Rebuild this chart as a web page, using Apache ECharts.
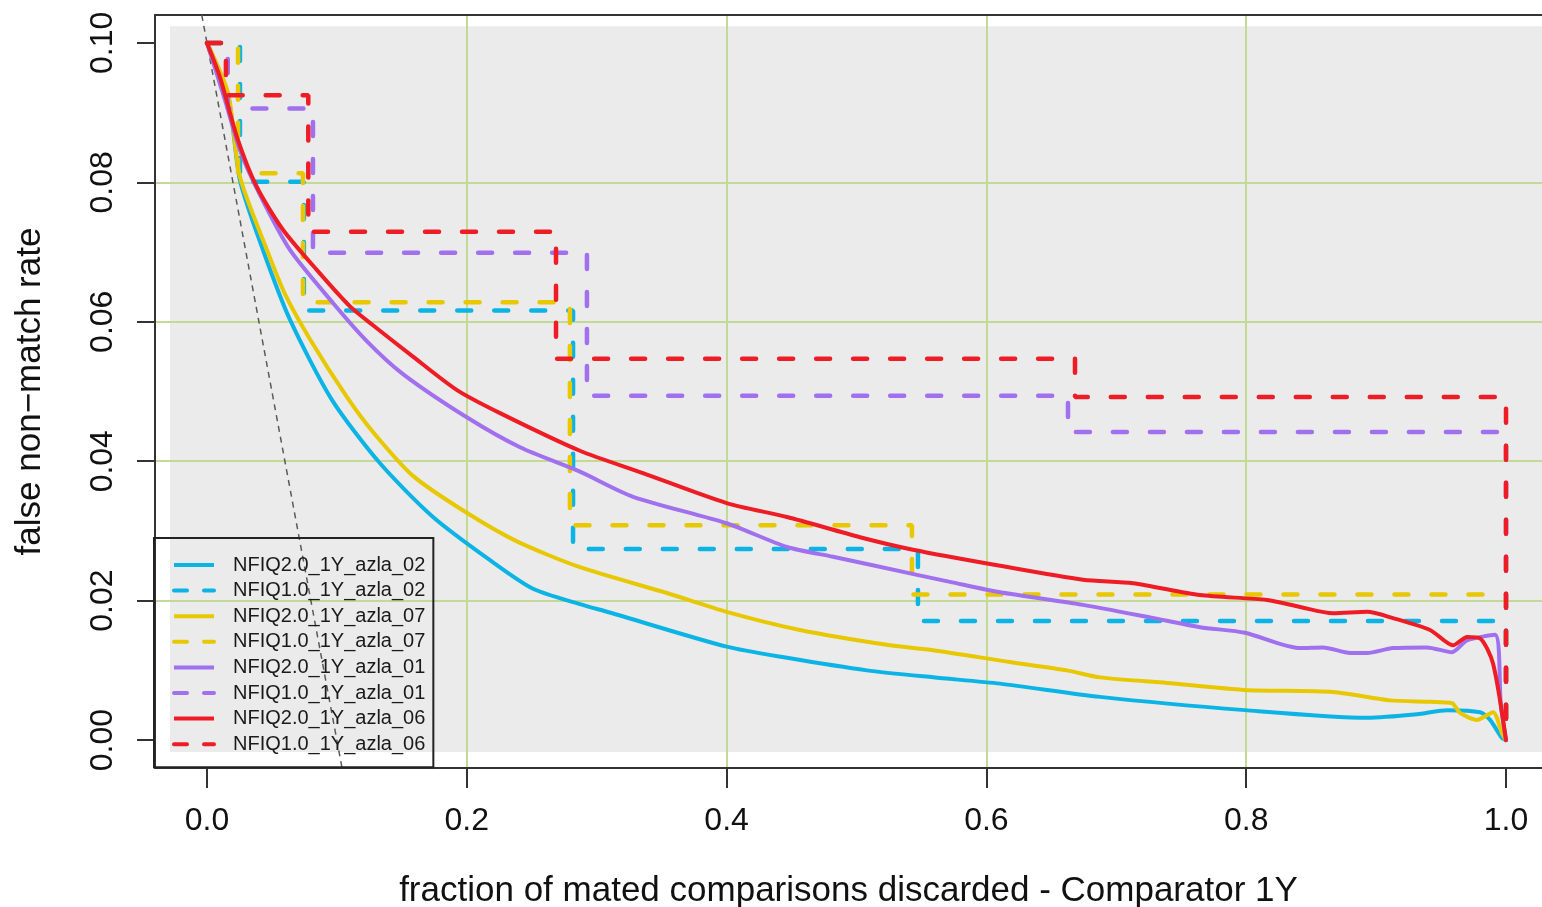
<!DOCTYPE html>
<html>
<head>
<meta charset="utf-8">
<title>FNMR vs fraction discarded - Comparator 1Y</title>
<script src="https://cdn.jsdelivr.net/npm/echarts@6/dist/echarts.min.js"></script>
<style>
  html, body { margin: 0; padding: 0; background: #ffffff; }
  #chart { width: 1542px; height: 907px; }
</style>
</head>
<body>
<div id="chart"></div>
<script>
// ---- tick positions ----
const xTicks = [0, 0.2, 0.4, 0.6, 0.8, 1.0];
const yTicks = [0, 0.02, 0.04, 0.06, 0.08, 0.10];

// ---- shaded panel extent (data units) ----
const panelX = [-0.0285, 1.03];
const panelY = [-0.0017, 0.1024];

// ---- reference diagonal (ideal rejection) ----
const diagX = [-0.004, 0.104];
const diagY = [0.104, -0.004];

// ---- NFIQ2.0 continuous error-vs-reject curves ----
const nfiq2_02_x = [0, 0.0162, 0.0254, 0.0431, 0.0639, 0.0962, 0.1332, 0.174, 0.2179, 0.251, 0.2871, 0.31, 0.4, 0.4465, 0.508, 0.559, 0.6105, 0.6874, 0.799, 0.893, 0.9315, 0.9546, 0.98, 0.9877, 0.9969, 1.0];
const nfiq2_02_y = [0.1, 0.0925, 0.0803, 0.0703, 0.0603, 0.0488, 0.0397, 0.032, 0.0258, 0.0217, 0.0195, 0.0183, 0.0134, 0.0118, 0.0100, 0.0090, 0.0081, 0.0062, 0.0043, 0.0032, 0.0037, 0.0043, 0.0040, 0.0029, 0.0003, 0];

const nfiq2_07_x = [0, 0.0162, 0.0254, 0.0462, 0.0600, 0.0793, 0.1078, 0.1278, 0.1586, 0.2, 0.2386, 0.2871, 0.3541, 0.4, 0.4565, 0.5258, 0.5589, 0.618, 0.662, 0.6874, 0.739, 0.799, 0.8668, 0.9107, 0.9415, 0.9584, 0.9646, 0.9777, 0.99, 0.9969, 1.0];
const nfiq2_07_y = [0.1, 0.0928, 0.0808, 0.0703, 0.0640, 0.0575, 0.0492, 0.0442, 0.0379, 0.0326, 0.0285, 0.0248, 0.0211, 0.0184, 0.0158, 0.0136, 0.0129, 0.0112, 0.0100, 0.0090, 0.0082, 0.0072, 0.0069, 0.0057, 0.0055, 0.0053, 0.0039, 0.0029, 0.0040, 0.0010, 0];

const nfiq2_01_x = [0, 0.0139, 0.0254, 0.0408, 0.0639, 0.097, 0.1232, 0.1509, 0.2, 0.241, 0.2871, 0.328, 0.4, 0.4465, 0.4819, 0.5466, 0.572, 0.6105, 0.6744, 0.726, 0.7644, 0.799, 0.8414, 0.8591, 0.88, 0.893, 0.913, 0.9392, 0.9584, 0.97, 0.9915, 0.996, 1.0];
const nfiq2_01_y = [0.1, 0.0918, 0.0846, 0.0782, 0.0703, 0.0627, 0.0572, 0.0525, 0.0463, 0.0420, 0.0385, 0.0349, 0.0311, 0.0277, 0.0263, 0.0237, 0.0227, 0.0212, 0.0194, 0.0176, 0.0162, 0.0154, 0.0132, 0.0133, 0.0125, 0.0125, 0.0132, 0.0133, 0.0126, 0.0143, 0.0151, 0.0050, 0];

const nfiq2_06_x = [0, 0.01, 0.0231, 0.0385, 0.0585, 0.0847, 0.1101, 0.1278, 0.1586, 0.1925, 0.2256, 0.2871, 0.3356, 0.4, 0.4465, 0.5027, 0.5435, 0.6105, 0.6744, 0.7129, 0.7644, 0.816, 0.8414, 0.8668, 0.893, 0.913, 0.9415, 0.9592, 0.97, 0.98, 0.99, 1.0];
const nfiq2_06_y = [0.1, 0.0951, 0.0865, 0.0793, 0.0732, 0.0674, 0.0622, 0.0595, 0.0550, 0.0502, 0.0469, 0.0415, 0.0383, 0.0340, 0.0320, 0.0291, 0.0273, 0.0250, 0.0230, 0.0225, 0.0208, 0.0201, 0.0191, 0.0182, 0.0184, 0.0175, 0.0158, 0.0136, 0.0148, 0.0146, 0.0110, 0];

// ---- NFIQ1.0 step curves (5 quality levels) ----
const nfiq1_02_x = [0, 0.0254, 0.0746, 0.2818, 0.5473, 1.0];
const nfiq1_02_y = [0.1, 0.0801, 0.0616, 0.0274, 0.0171, 0];

const nfiq1_07_x = [0, 0.0239, 0.0739, 0.2794, 0.5427, 1.0];
const nfiq1_07_y = [0.1, 0.0813, 0.0628, 0.0308, 0.0209, 0];

const nfiq1_01_x = [0, 0.016, 0.0816, 0.2925, 0.6628, 1.0];
const nfiq1_01_y = [0.1, 0.0906, 0.0699, 0.0494, 0.0442, 0];

const nfiq1_06_x = [0, 0.0146, 0.078, 0.2687, 0.6682, 1.0];
const nfiq1_06_y = [0.1, 0.0925, 0.0729, 0.0547, 0.0492, 0];

// ---- series names and colours ----
const names = [
  'NFIQ2.0_1Y_azla_02', 'NFIQ1.0_1Y_azla_02',
  'NFIQ2.0_1Y_azla_07', 'NFIQ1.0_1Y_azla_07',
  'NFIQ2.0_1Y_azla_01', 'NFIQ1.0_1Y_azla_01',
  'NFIQ2.0_1Y_azla_06', 'NFIQ1.0_1Y_azla_06'
];
const colors = ['#0cb4e6', '#0cb4e6', '#e8c800', '#e8c800', '#a070ee', '#a070ee', '#ee1c24', '#ee1c24'];
const xs = [nfiq2_02_x, nfiq1_02_x, nfiq2_07_x, nfiq1_07_x, nfiq2_01_x, nfiq1_01_x, nfiq2_06_x, nfiq1_06_x];
const ys = [nfiq2_02_y, nfiq1_02_y, nfiq2_07_y, nfiq1_07_y, nfiq2_01_y, nfiq1_01_y, nfiq2_06_y, nfiq1_06_y];

const FONT = '"Liberation Sans", Arial, sans-serif';
const FRAME = '#333333';
const GRIDLINE = '#c3da96';
const pairs = (a, b) => a.map((v, i) => [v, b[i]]);
const isStep = name => name.startsWith('NFIQ1.0');

const curveSeries = names.map((name, i) => {
  const stepped = isStep(name);
  return {
    name: name,
    type: 'line',
    data: pairs(xs[i], ys[i]),
    step: stepped ? 'end' : false,
    smooth: stepped ? false : 0.25,
    symbol: 'none',
    z: 3 + i,
    lineStyle: stepped
      ? { color: colors[i], width: 4.5, type: [14, 23], cap: 'round' }
      : { color: colors[i], width: 4, cap: 'round', join: 'round' },
    itemStyle: { color: colors[i] },
    emphasis: { disabled: true },
    animation: false
  };
});

// legend keys: thick line samples, dashed ones with a shorter pattern
const legendData = names.map(name => ({
  name: name,
  lineStyle: isStep(name)
    ? { width: 4, type: [13, 17], cap: 'round' }
    : { width: 4, type: 'solid', cap: 'butt' }
}));

const chart = echarts.init(document.getElementById('chart'), null, { renderer: 'canvas' });

const option = {
  animation: false,
  backgroundColor: '#ffffff',
  grid: {
    left: 155, top: 15, right: 0, height: 753,
    containLabel: false,
    outerBoundsMode: 'none'
  },
  xAxis: [{
    type: 'value',
    min: -0.04, max: 1.0277,
    axisLine: { show: true, onZero: false, lineStyle: { color: FRAME, width: 2 } },
    axisTick: { show: true, customValues: xTicks, length: 20, lineStyle: { color: FRAME, width: 2 } },
    axisLabel: {
      customValues: xTicks,
      formatter: v => v.toFixed(1),
      fontSize: 32, fontFamily: FONT, color: '#111111', margin: 37
    },
    splitLine: { show: true, showMinLine: false, showMaxLine: false, lineStyle: { color: GRIDLINE, width: 2 } },
    name: 'fraction of mated comparisons discarded - Comparator 1Y',
    nameLocation: 'middle',
    nameGap: 106,
    nameTextStyle: { fontSize: 35, fontFamily: FONT, color: '#111111' }
  }, {
    // top edge of the plot box
    type: 'value',
    position: 'top',
    min: -0.04, max: 1.0277,
    axisLine: { show: true, onZero: false, lineStyle: { color: FRAME, width: 2 } },
    axisTick: { show: false },
    axisLabel: { show: false },
    splitLine: { show: false }
  }],
  yAxis: {
    type: 'value',
    min: -0.004, max: 0.104,
    axisLine: { show: true, onZero: false, lineStyle: { color: FRAME, width: 2 } },
    axisTick: { show: true, customValues: yTicks, length: 18, lineStyle: { color: FRAME, width: 2 } },
    axisLabel: {
      customValues: yTicks,
      formatter: v => v.toFixed(2),
      rotate: 90,
      fontSize: 32, fontFamily: FONT, color: '#111111', margin: 36
    },
    splitLine: { show: true, showMinLine: false, showMaxLine: false, lineStyle: { color: GRIDLINE, width: 2 } },
    name: 'false non\u2212match rate',
    nameLocation: 'middle',
    nameGap: 107,
    nameTextStyle: { fontSize: 35, fontFamily: FONT, color: '#111111' }
  },
  legend: {
    data: legendData,
    orient: 'vertical',
    left: 154, top: 538,
    padding: [17, 8, 13, 18],
    itemWidth: 40, itemHeight: 14, itemGap: 5.6,
    borderColor: '#222222', borderWidth: 2,
    backgroundColor: 'transparent',
    selectedMode: false,
    itemStyle: { opacity: 0 },
    textStyle: { fontSize: 20, fontFamily: FONT, color: '#1a1a1a', lineHeight: 20, padding: [0, 0, 0, 14] }
  },
  series: [
    {
      name: 'ideal',
      type: 'line',
      data: pairs(diagX, diagY),
      symbol: 'none',
      z: 2,
      silent: true,
      lineStyle: { color: '#5a5a5a', width: 1.5, type: [6, 5] },
      emphasis: { disabled: true }
    }
  ].concat(curveSeries)
};

chart.setOption(option);

// shaded plotting panel, placed from its data-unit extent
const p0 = chart.convertToPixel({ gridIndex: 0 }, [panelX[0], panelY[1]]);
const p1 = chart.convertToPixel({ gridIndex: 0 }, [panelX[1], panelY[0]]);
chart.setOption({
  graphic: [{
    type: 'rect',
    z: -10,
    silent: true,
    shape: { x: p0[0], y: p0[1], width: p1[0] - p0[0], height: p1[1] - p0[1] },
    style: { fill: '#ebebeb' }
  }]
});
</script>
</body>
</html>
